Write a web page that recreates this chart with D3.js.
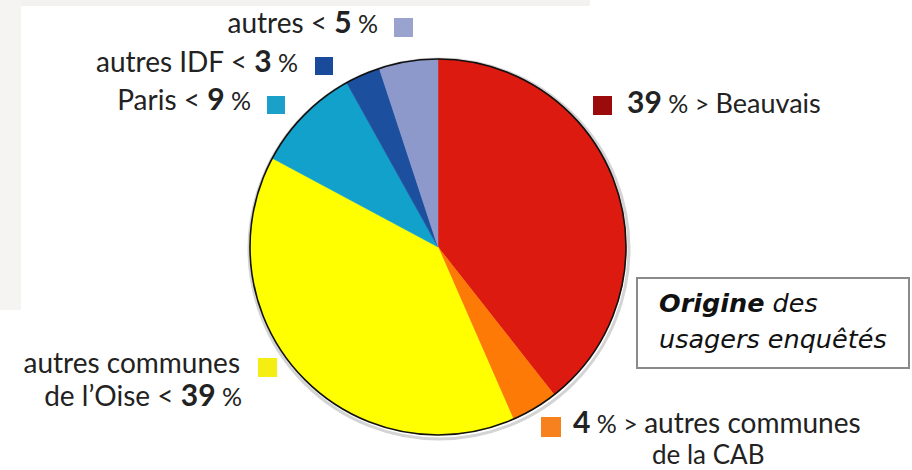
<!DOCTYPE html>
<html>
<head>
<meta charset="utf-8">
<script src="https://cdn.jsdelivr.net/npm/d3@7"></script>
<style>
  html, body { margin: 0; padding: 0; background: #ffffff; }
  svg { display: block; }
</style>
</head>
<body>
<svg id="chart" width="912" height="470"></svg>
<script>
// ---- data ----
const categories = ["Beauvais", "autres communes de la CAB", "autres communes de l'Oise", "Paris", "autres IDF", "autres"];
const values = [39, 4, 39, 9, 3, 5];
const sliceColors = ["#dc1a0f", "#fd7a06", "#ffff00", "#12a1ca", "#1d4f9f", "#8e99cb"];
const keyColors = ["#9c0b0b", "#f7801f", "#f5ee12", "#1ba1c9", "#1a4b9a", "#9aa3cd"];
const titleBold = "Origine";
const titleRest = [" des", "usagers enquêtés"];

const svg = d3.select("#chart");
const W = 912, H = 470;

// background edges
svg.append("rect").attr("x", 0).attr("y", 0).attr("width", W).attr("height", H).attr("fill", "#ffffff");
svg.append("rect").attr("x", 0).attr("y", 0).attr("width", 590).attr("height", 6).attr("fill", "#f4f1f1");
svg.append("rect").attr("x", 0).attr("y", 0).attr("width", 21).attr("height", 310).attr("fill", "#f6f3f3");

// ---- pie ----
const cx = 438, cy = 247, R = 188;
const pie = d3.pie().sort(null).value(d => d)(values);
const arc = d3.arc().innerRadius(0).outerRadius(R);
const g = svg.append("g").attr("transform", `translate(${cx},${cy})`);
g.append("circle").attr("r", R + 2).attr("fill", "none").attr("stroke", "#d4d4d4").attr("stroke-width", 3).attr("transform", "translate(1,2)");
g.selectAll("path.slice").data(pie).enter().append("path")
  .attr("class", "slice")
  .attr("d", arc)
  .attr("fill", (d, i) => sliceColors[i])
  .attr("stroke", (d, i) => sliceColors[i])
  .attr("stroke-width", 0.5);
g.append("circle").attr("r", R).attr("fill", "none").attr("stroke", "#111").attr("stroke-width", 1.6);

// ---- labels ----
const FONT = "Lato, 'Open Sans', sans-serif";
const textCol = "#222";
const REG = 28, NUM = 30, PCT = 25;

// lines: array of {x, y, parts}
function label(anchor, lines) {
  const t = svg.append("text").attr("text-anchor", anchor).attr("font-family", FONT).attr("fill", textCol);
  lines.forEach(line => {
    line.parts.forEach((p, j) => {
      const ts = t.append("tspan").text(p.t)
        .attr("font-size", p.s)
        .attr("font-weight", p.b ? 700 : 400);
      if (j === 0) ts.attr("x", line.x).attr("y", line.y);
    });
  });
  return t;
}
function key(x, y, i, s) {
  svg.append("rect").attr("x", x).attr("y", y).attr("width", s).attr("height", s).attr("fill", keyColors[i]);
}
const pctParts = (pre, v) => [{t: pre + " < ", s: REG}, {t: String(v), s: NUM, b: true}, {t: " %", s: PCT}];

// top-left labels
label("end", [{x: 378, y: 33, parts: pctParts(categories[5], values[5])}]);
key(394, 18, 5, 19);
label("end", [{x: 298, y: 72, parts: pctParts(categories[4], values[4])}]);
key(315, 57, 4, 18);
label("end", [{x: 251, y: 110, parts: pctParts(categories[3], values[3])}]);
key(267, 96, 3, 18);

// Beauvais
key(593, 96, 0, 19);
label("start", [{x: 627, y: 113, parts: [{t: String(values[0]), s: NUM, b: true}, {t: " % > ", s: PCT}, {t: categories[0], s: 27}]}]);

// autres communes de l'Oise
label("end", [
  {x: 240, y: 373, parts: [{t: "autres communes", s: REG}]},
  {x: 242, y: 406, parts: pctParts("de l\u2019Oise", values[2])}
]);
key(258, 358, 2, 19);

// CAB
key(541, 417, 1, 20);
label("start", [
  {x: 573, y: 433, parts: [{t: String(values[1]), s: NUM, b: true}, {t: " % > ", s: PCT}, {t: "autres communes", s: REG}]},
  {x: 652, y: 464, parts: [{t: "de la CAB", s: 26}]}
]);

// ---- title box ----
svg.append("rect").attr("x", 637).attr("y", 278).attr("width", 272).attr("height", 90)
  .attr("fill", "#ffffff").attr("stroke", "#8a8a8a").attr("stroke-width", 2);
const TF = "'DejaVu Sans', Verdana, sans-serif";
const tt = svg.append("text").attr("font-family", TF).attr("font-size", 25.5)
  .attr("font-style", "italic").attr("fill", "#111");
tt.append("tspan").attr("x", 659).attr("y", 312).text(titleBold).attr("font-weight", 700);
tt.append("tspan").text(titleRest[0]);
tt.append("tspan").attr("x", 659).attr("y", 348).text(titleRest[1]);
</script>
</body>
</html>
